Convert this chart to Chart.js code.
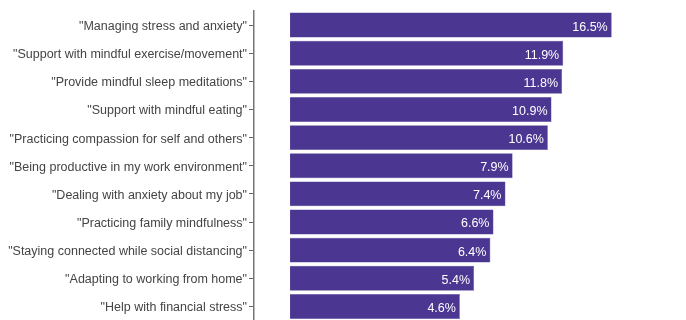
<!DOCTYPE html>
<html>
<head>
<meta charset="utf-8">
<script src="https://cdn.jsdelivr.net/npm/chart.js@4"></script>
<style>
  html, body { margin: 0; padding: 0; background: #fff; overflow: hidden; }
  #wrap { width: 686px; height: 330px; }
</style>
</head>
<body>
<div id="wrap"><canvas id="chart"></canvas></div>
<script>
// podaci
const kategorije = [
  '"Managing stress and anxiety"',
  '"Support with mindful exercise/movement"',
  '"Provide mindful sleep meditations"',
  '"Support with mindful eating"',
  '"Practicing compassion for self and others"',
  '"Being productive in my work environment"',
  '"Dealing with anxiety about my job"',
  '"Practicing family mindfulness"',
  '"Staying connected while social distancing"',
  '"Adapting to working from home"',
  '"Help with financial stress"'
];
const postoci = [16.5, 11.9, 11.8, 10.9, 10.6, 7.9, 7.4, 6.6, 6.4, 5.4, 4.6];

// kvadratna (sqrt) skala - original koristi sqrt os
const sq = v => Math.sign(v) * Math.sqrt(Math.abs(v));
class SqrtScale extends Chart.LinearScale {
  getPixelForValue(value) {
    const s = sq(this.min), e = sq(this.max);
    return this.getPixelForDecimal((sq(value) - s) / (e - s));
  }
  getValueForPixel(pixel) {
    const s = sq(this.min), e = sq(this.max);
    const t = s + this.getDecimalForPixel(pixel) * (e - s);
    return Math.sign(t) * t * t;
  }
}
SqrtScale.id = 'sqrt';
SqrtScale.defaults = Chart.LinearScale.defaults;
Chart.register(SqrtScale);

const font = '"Liberation Sans", Arial, sans-serif';

// oznake vrijednosti unutar stupaca
const oznake = {
  id: 'oznake',
  afterDatasetsDraw(chart) {
    const ctx = chart.ctx;
    const meta = chart.getDatasetMeta(0);
    ctx.save();
    ctx.fillStyle = '#ffffff';
    ctx.font = '12.5px ' + font;
    ctx.textAlign = 'right';
    ctx.textBaseline = 'middle';
    meta.data.forEach((bar, i) => {
      ctx.fillText(postoci[i].toFixed(1) + '%', bar.x - 4, bar.y + 2);
    });
    ctx.restore();
  }
};

new Chart(document.getElementById('chart'), {
  type: 'bar',
  data: {
    labels: kategorije,
    datasets: [{
      data: postoci,
      backgroundColor: '#4b3692',
      borderColor: '#5a47a0',
      borderWidth: 0.5,
      barPercentage: 0.885,
      categoryPercentage: 1
    }]
  },
  options: {
    indexAxis: 'y',
    responsive: true,
    maintainAspectRatio: false,
    animation: false,
    layout: { padding: { top: 11, bottom: 8, left: 0, right: 0 } },
    plugins: { legend: { display: false }, tooltip: { enabled: false } },
    scales: {
      x: {
        type: 'sqrt',
        min: -0.207,
        max: 25,
        display: false
      },
      y: {
        afterFit(axis) { axis.width = 254; },
        grid: {
          drawOnChartArea: false,
          offset: false,
          tickLength: 5,
          color: '#666'
        },
        border: { color: '#777', width: 1.5 },
        ticks: {
          color: '#444',
          padding: 2,
          labelOffset: 1.5,
          font: { family: font, size: 12.5 }
        }
      }
    }
  },
  plugins: [oznake]
});
</script>
</body>
</html>
